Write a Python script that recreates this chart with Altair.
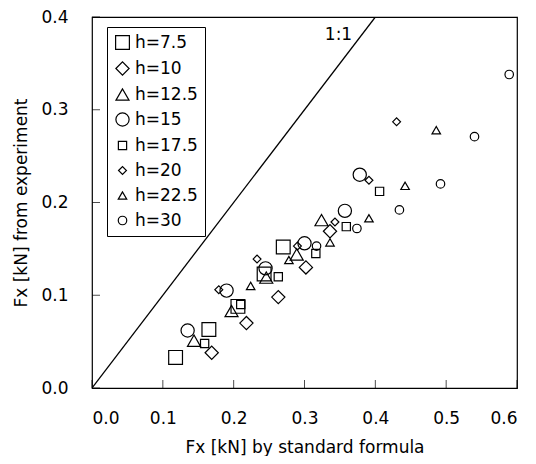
import altair as alt
import pandas as pd

categories = ["h=7.5", "h=10", "h=12.5", "h=15", "h=17.5", "h=20", "h=22.5", "h=30"]
shapes = ["square", "diamond", "triangle-up", "circle", "square", "diamond", "triangle-up", "circle"]
sizes = [190, 175, 170, 175, 68, 62, 72, 72]

x_h75 = [0.118, 0.165, 0.206, 0.243, 0.270]
y_h75 = [0.033, 0.063, 0.088, 0.123, 0.152]
x_h10 = [0.169, 0.218, 0.263, 0.302, 0.336]
y_h10 = [0.038, 0.070, 0.098, 0.130, 0.169]
x_h125 = [0.144, 0.197, 0.246, 0.289, 0.324]
y_h125 = [0.051, 0.083, 0.119, 0.144, 0.181]
x_h15 = [0.135, 0.190, 0.245, 0.300, 0.357, 0.378]
y_h15 = [0.062, 0.105, 0.129, 0.156, 0.191, 0.230]
x_h175 = [0.159, 0.210, 0.263, 0.316, 0.359, 0.406]
y_h175 = [0.048, 0.090, 0.120, 0.145, 0.174, 0.212]
x_h20 = [0.179, 0.233, 0.290, 0.343, 0.391, 0.430]
y_h20 = [0.106, 0.139, 0.153, 0.179, 0.224, 0.287]
x_h225 = [0.224, 0.278, 0.336, 0.391, 0.442, 0.486]
y_h225 = [0.110, 0.138, 0.157, 0.183, 0.218, 0.278]
x_h30 = [0.317, 0.374, 0.434, 0.492, 0.540, 0.589]
y_h30 = [0.153, 0.172, 0.192, 0.220, 0.271, 0.338]

x_ticks = [0.0, 0.1, 0.2, 0.3, 0.4, 0.5, 0.6]
y_ticks = [0.0, 0.1, 0.2, 0.3, 0.4]
one_to_one = [0.0, 0.4]
label_text = ["1:1"]
label_x = [0.348]
label_y = [0.381]

FONT = "DejaVu Sans"

series = [
    (x_h75, y_h75), (x_h10, y_h10), (x_h125, y_h125), (x_h15, y_h15),
    (x_h175, y_h175), (x_h20, y_h20), (x_h225, y_h225), (x_h30, y_h30),
]
rows = []
for cat, (xs, ys) in zip(categories, series):
    for xv, yv in zip(xs, ys):
        rows.append({"h": cat, "x": xv, "y": yv})
df = pd.DataFrame(rows)

xscale = alt.Scale(domain=[0, 0.6], nice=False, zero=False)
yscale = alt.Scale(domain=[0, 0.4], nice=False, zero=False)

legend = alt.Legend(
    title=None, orient="none", legendX=15, legendY=10, direction="vertical",
    strokeColor="black", padding=7, rowPadding=7,
    labelFont=FONT, labelFontSize=17, labelColor="black", labelOffset=4,
    symbolStrokeColor="black", symbolStrokeWidth=1.2, symbolFillColor="transparent",
)

points = alt.Chart(df).mark_point(filled=False, color="black", strokeWidth=1.2, opacity=1).encode(
    x=alt.X("x:Q", scale=xscale,
            axis=alt.Axis(values=x_ticks, format=".1f", title="Fx [kN] by standard formula",
                          labelPadding=22, titlePadding=13)),
    y=alt.Y("y:Q", scale=yscale,
            axis=alt.Axis(values=y_ticks, format=".1f", title="Fx [kN] from experiment",
                          labelPadding=24, titlePadding=10)),
    shape=alt.Shape("h:O", scale=alt.Scale(domain=categories, range=shapes), legend=legend),
    size=alt.Size("h:O", scale=alt.Scale(type="ordinal", domain=categories, range=sizes), legend=legend),
)

line_df = pd.DataFrame({"x": one_to_one, "y": one_to_one})
diag = alt.Chart(line_df).mark_line(color="black", strokeWidth=1.3, clip=True).encode(
    x=alt.X("x:Q", scale=xscale), y=alt.Y("y:Q", scale=yscale)
)

lab_df = pd.DataFrame({"t": label_text, "x": label_x, "y": label_y})
lab = alt.Chart(lab_df).mark_text(font=FONT, fontSize=17, color="black", align="center", baseline="middle").encode(
    x=alt.X("x:Q", scale=xscale), y=alt.Y("y:Q", scale=yscale), text="t:N"
)

xt = alt.Chart(pd.DataFrame({"v": x_ticks})).mark_tick(orient="vertical", size=8, thickness=1, color="black", yOffset=-4).encode(
    x=alt.X("v:Q", scale=xscale), y=alt.datum(0)
)
yt = alt.Chart(pd.DataFrame({"v": y_ticks})).mark_tick(orient="horizontal", size=8, thickness=1, color="black", xOffset=4).encode(
    y=alt.Y("v:Q", scale=yscale), x=alt.datum(0)
)

chart = alt.layer(diag, points, lab, xt, yt).properties(
    width=425, height=371,
    autosize=alt.AutoSizeParams(type="none"),
    padding={"left": 84, "top": 9, "right": 11, "bottom": 68},
).configure_view(
    stroke="black", strokeWidth=1.2
).configure_axis(
    domain=False, grid=False, ticks=False,
    labelFont=FONT, labelFontSize=17, labelColor="black",
    titleFont=FONT, titleFontSize=17, titleFontWeight="normal", titleColor="black",
)

chart.save("out.html", embed_options={"renderer": "svg", "actions": False})
